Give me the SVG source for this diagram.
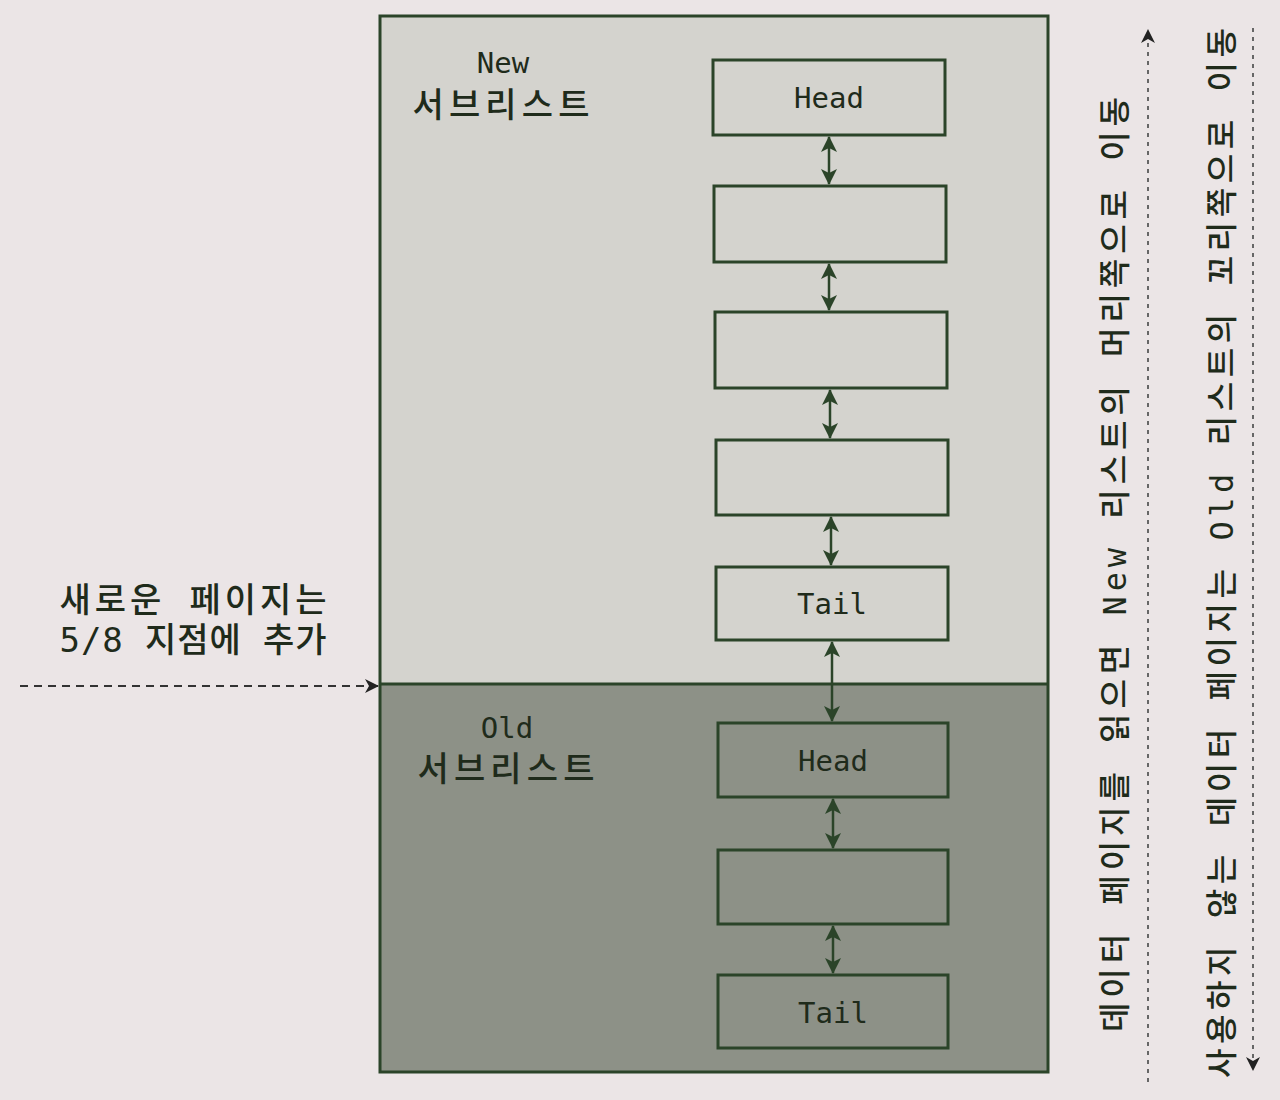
<svg xmlns="http://www.w3.org/2000/svg" width="1280" height="1100" viewBox="0 0 1280 1100">
<defs>
<style>
.t{font-family:"DejaVu Sans Mono","Noto Sans CJK KR",monospace;fill:#1f2b1b}
.k{font-family:"Noto Sans CJK KR","DejaVu Sans Mono",sans-serif;font-weight:500;fill:#1f2b1b}
.lbl{font-size:29px;text-anchor:middle}
.box{stroke:#2b4429;stroke-width:3;fill:none}
.con{stroke:#2b4429;stroke-width:2.5;fill:none}
.dash{stroke:#333;stroke-width:2;stroke-dasharray:8 6;fill:none}
.vdash{stroke:#666;stroke-width:2;stroke-dasharray:4 5;fill:none}
</style>
<marker id="ah" viewBox="0 0 16 16" refX="15" refY="8" markerWidth="16" markerHeight="16" markerUnits="userSpaceOnUse" orient="auto-start-reverse">
<path d="M0,0 L16,8 L0,16 L4,8 Z" fill="#2b4429"/>
</marker>
<marker id="ah2" viewBox="0 0 14 14" refX="13" refY="7" markerWidth="14" markerHeight="14" markerUnits="userSpaceOnUse" orient="auto-start-reverse">
<path d="M0,0 L14,7 L0,14 L4,7 Z" fill="#222"/>
</marker>
</defs>
<rect width="1280" height="1100" fill="#ebe5e6"/>
<g id="new-sublist">
<rect x="380" y="16" width="668" height="668" fill="#d4d3ce"/>
<text class="t lbl" x="503" y="73" font-size="29">New</text>
<text class="k" x="501" y="117" font-size="34" text-anchor="middle" textLength="177" lengthAdjust="spacing">서브리스트</text>
</g>
<g id="old-sublist">
<rect x="380" y="684" width="668" height="388" fill="#8d9187"/>
<text class="t lbl" x="507" y="738" font-size="29">Old</text>
<text class="k" x="506" y="781" font-size="34" text-anchor="middle" textLength="177" lengthAdjust="spacing">서브리스트</text>
</g>
<g id="frame">
<rect class="box" x="380" y="16" width="668" height="1056"/>
<line class="box" x1="380" y1="684" x2="1048" y2="684"/>
</g>
<g id="n1"><rect class="box" x="713" y="60" width="232" height="75"/><text class="t lbl" x="829" y="108">Head</text></g>
<g id="n2"><rect class="box" x="714" y="186" width="232" height="76"/></g>
<g id="n3"><rect class="box" x="715" y="312" width="232" height="76"/></g>
<g id="n4"><rect class="box" x="716" y="440" width="232" height="75"/></g>
<g id="n5"><rect class="box" x="716" y="567" width="232" height="73"/><text class="t lbl" x="832" y="614">Tail</text></g>
<g id="n6"><rect class="box" x="718" y="723" width="230" height="74"/><text class="t lbl" x="833" y="771">Head</text></g>
<g id="n7"><rect class="box" x="718" y="850" width="230" height="74"/></g>
<g id="n8"><rect class="box" x="718" y="975" width="230" height="73"/><text class="t lbl" x="833" y="1023">Tail</text></g>
<g id="left-note">
<text class="t" x="193" y="612" font-size="34" text-anchor="middle" font-weight="500" textLength="267" lengthAdjust="spacing">새로운 페이지는</text>
<text class="t" x="193" y="652" font-size="34" text-anchor="middle" font-weight="500" textLength="267" lengthAdjust="spacing">5/8 지점에 추가</text>
</g>
<g id="right-notes">
<text class="t" transform="translate(1126,1032) rotate(-90)" font-size="32" font-weight="500" textLength="935" lengthAdjust="spacing">데이터 페이지를 읽으면 New 리스트의 머리쪽으로 이동</text>
<text class="t" transform="translate(1233,1078) rotate(-90)" font-size="32" font-weight="500" textLength="1050" lengthAdjust="spacing">사용하지 않는 데이터 페이지는 Old 리스트의 꼬리쪽으로 이동</text>
</g>
<g id="connectors">
<line class="con" x1="829" y1="137" x2="829" y2="184" marker-start="url(#ah)" marker-end="url(#ah)"/>
<line class="con" x1="829" y1="264" x2="829" y2="310" marker-start="url(#ah)" marker-end="url(#ah)"/>
<line class="con" x1="830" y1="390" x2="830" y2="438" marker-start="url(#ah)" marker-end="url(#ah)"/>
<line class="con" x1="831" y1="517" x2="831" y2="565" marker-start="url(#ah)" marker-end="url(#ah)"/>
<line class="con" x1="832" y1="642" x2="832" y2="721" marker-start="url(#ah)" marker-end="url(#ah)"/>
<line class="con" x1="833" y1="799" x2="833" y2="848" marker-start="url(#ah)" marker-end="url(#ah)"/>
<line class="con" x1="833" y1="926" x2="833" y2="973" marker-start="url(#ah)" marker-end="url(#ah)"/>
<line class="dash" x1="20" y1="686" x2="378" y2="686" marker-end="url(#ah2)"/>
<line class="vdash" x1="1148" y1="1082" x2="1148" y2="30" marker-end="url(#ah2)"/>
<line class="vdash" x1="1253" y1="28" x2="1253" y2="1070" marker-end="url(#ah2)"/>
</g>
</svg>
